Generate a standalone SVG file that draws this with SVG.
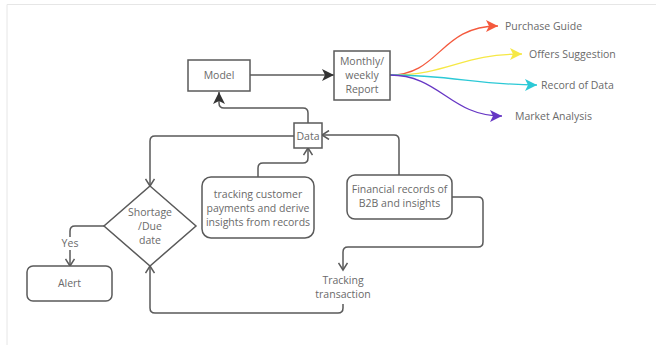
<svg xmlns="http://www.w3.org/2000/svg" width="656" height="351" viewBox="0 0 656 351">
<style>
.box{fill:#fff;stroke:#5a5a5a;stroke-width:1.5}
.t{font-family:"Open Sans","Liberation Sans",sans-serif;font-size:10.5px;fill:#6a6a6a;text-anchor:middle}
.tl{font-family:"Open Sans","Liberation Sans",sans-serif;font-size:10.5px;fill:#6a6a6a}
.c{fill:none;stroke:#5a5a5a;stroke-width:1.5}
.cc{fill:none;stroke-width:1.3}
</style>
<defs>
<marker id="open" markerWidth="10" markerHeight="10" refX="8" refY="5" orient="auto" markerUnits="userSpaceOnUse">
<path d="M1,0.5 L8,5 L1,9.5" fill="none" stroke="#5a5a5a" stroke-width="1.5"/>
</marker>
<marker id="fill" markerWidth="14" markerHeight="14" refX="12" refY="7" orient="auto" markerUnits="userSpaceOnUse">
<path d="M0,1 L12,7 L0,13 L3,7 Z" fill="#333"/>
</marker>
<marker id="mr" markerWidth="14" markerHeight="14" refX="12" refY="7" orient="auto" markerUnits="userSpaceOnUse"><path d="M0,1 L12,7 L0,13 L3,7 Z" fill="#f4593d"/></marker>
<marker id="my" markerWidth="14" markerHeight="14" refX="12" refY="7" orient="auto" markerUnits="userSpaceOnUse"><path d="M0,1 L12,7 L0,13 L3,7 Z" fill="#f6e845"/></marker>
<marker id="mc" markerWidth="14" markerHeight="14" refX="12" refY="7" orient="auto" markerUnits="userSpaceOnUse"><path d="M0,1 L12,7 L0,13 L3,7 Z" fill="#2cc9d6"/></marker>
<marker id="mp" markerWidth="14" markerHeight="14" refX="12" refY="7" orient="auto" markerUnits="userSpaceOnUse"><path d="M0,1 L12,7 L0,13 L3,7 Z" fill="#6636c4"/></marker>
</defs>
<rect width="656" height="351" fill="#fff"/>
<path d="M7,345 V4.5 H656" fill="none" stroke="#e6e6e6" stroke-width="1"/>

<g id="connectors">
<path class="c" d="M250,75 H334" marker-end="url(#fill)"/>
<path class="c" d="M308,123 V113 Q308,108 303,108 H224 Q219,108 219,103 V92" marker-end="url(#fill)"/>
<path class="c" d="M399,175 V140 Q399,135 394,135 H322" marker-end="url(#open)"/>
<path class="c" d="M258,177 V168 Q258,163 263,163 H303 Q308,163 308,158 V148" marker-end="url(#open)"/>
<path class="c" d="M294,136 H155 Q150,136 150,141 V186" marker-end="url(#open)"/>
<path class="c" d="M104,226 H75 Q70,226 70,231 V266" marker-end="url(#open)"/>
<path class="c" d="M452,197 H478 Q483,197 483,202 V242 Q483,247 478,247 H348 Q343,247 343,252 V270" marker-end="url(#open)"/>
<path class="c" d="M343,304 V308 Q343,313 338,313 H155 Q150,313 150,308 V266" marker-end="url(#open)"/>
<path class="cc" stroke="#f4593d" d="M390,75 C440,75 440,26 498,26" marker-end="url(#mr)"/>
<path class="cc" stroke="#f6e845" d="M390,75 C450,75 460,54 522,54" marker-end="url(#my)"/>
<path class="cc" stroke="#2cc9d6" d="M390,75 C450,75 480,85 537,85" marker-end="url(#mc)"/>
<path class="cc" stroke="#6636c4" d="M390,75 C440,75 450,116 502,116" marker-end="url(#mp)"/>
</g>

<g id="model"><rect class="box" x="188" y="60" width="62" height="31"/><text class="t" x="219" y="79">Model</text></g>
<g id="report"><rect class="box" x="334" y="51" width="56" height="49"/>
<text class="t" x="362" y="65">Monthly/</text><text class="t" x="362" y="79">weekly</text><text class="t" x="362" y="93">Report</text></g>
<g id="data"><rect class="box" x="294" y="123" width="28" height="25"/><text class="t" x="308" y="139.5">Data</text></g>
<g id="shortage"><path class="box" d="M150,186 L196,226 L150,266 L104,226 Z"/>
<text class="t" x="150" y="216">Shortage</text><text class="t" x="150" y="230">/Due</text><text class="t" x="150" y="244">date</text></g>
<g id="alert"><rect class="box" x="27" y="266" width="85" height="35" rx="6"/><text class="t" x="69.5" y="287">Alert</text></g>
<g id="tracking-customer"><rect class="box" x="202" y="177" width="112" height="61" rx="9"/>
<text class="t" x="258" y="198">tracking customer</text><text class="t" x="258" y="212">payments and derive</text><text class="t" x="258" y="226">insights from records</text></g>
<g id="financial"><rect class="box" x="347" y="175" width="105" height="44" rx="8"/>
<text class="t" x="399.5" y="193">Financial records of</text><text class="t" x="399.5" y="207">B2B and insights</text></g>
<g id="tracking-transaction"><text class="t" x="343" y="284">Tracking</text><text class="t" x="343" y="298">transaction</text></g>
<g id="yes"><rect x="60" y="237" width="20" height="13" fill="#fff"/><text class="t" x="70" y="247">Yes</text></g>
<g id="purchase"><text class="tl" x="505" y="30">Purchase Guide</text></g>
<g id="offers"><text class="tl" x="529" y="58">Offers Suggestion</text></g>
<g id="record"><text class="tl" x="541" y="89">Record of Data</text></g>
<g id="market"><text class="tl" x="515" y="120">Market Analysis</text></g>
</svg>
